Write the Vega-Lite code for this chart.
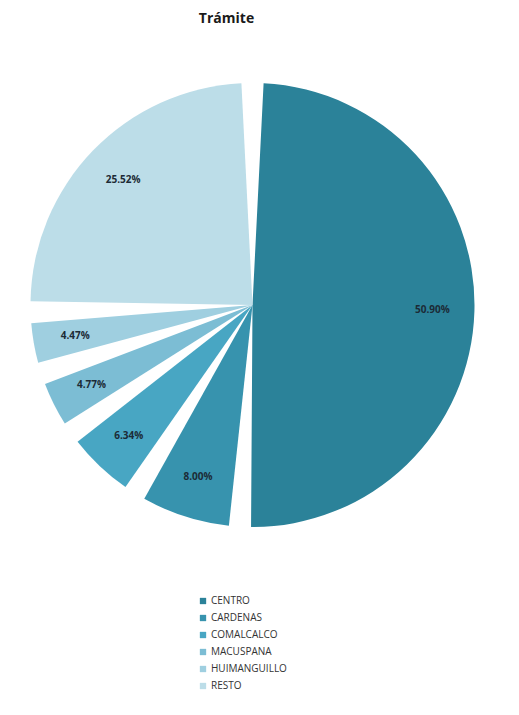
{
  "$schema": "https://vega.github.io/schema/vega-lite/v6.json",
  "width": 505,
  "height": 550,
  "autosize": {"type": "none"},
  "padding": {"top": 30, "left": 0, "right": 14, "bottom": 135},
  "background": "white",
  "title": {
    "text": "Trámite",
    "font": "Open Sans",
    "fontSize": 14,
    "fontWeight": "bold",
    "color": "#1a1a1a",
    "anchor": "middle",
    "dx": -26,
    "offset": 4
  },
  "data": {
    "values": [
      {"region": "CENTRO", "pct": 50.90, "label": "50.90%"},
      {"region": "CARDENAS", "pct": 8.00, "label": "8.00%"},
      {"region": "COMALCALCO", "pct": 6.34, "label": "6.34%"},
      {"region": "MACUSPANA", "pct": 4.77, "label": "4.77%"},
      {"region": "HUIMANGUILLO", "pct": 4.47, "label": "4.47%"},
      {"region": "RESTO", "pct": 25.52, "label": "25.52%"}
    ]
  },
  "encoding": {
    "theta": {"field": "pct", "type": "quantitative", "stack": true},
    "order": {"field": "order_idx", "type": "quantitative"}
  },
  "layer": [
    {
      "mark": {"type": "arc", "outerRadius": 222, "padAngle": 0.1, "stroke": null},
      "encoding": {
        "color": {
          "field": "region",
          "type": "nominal",
          "sort": ["CENTRO", "CARDENAS", "COMALCALCO", "MACUSPANA", "HUIMANGUILLO", "RESTO"],
          "scale": {
            "domain": ["CENTRO", "CARDENAS", "COMALCALCO", "MACUSPANA", "HUIMANGUILLO", "RESTO"],
            "range": ["#2b8299", "#3793ae", "#48a6c3", "#7cbdd4", "#9fcfe0", "#bcdde8"]
          },
          "legend": {
            "orient": "none",
            "legendX": 198,
            "legendY": 566,
            "title": null,
            "symbolType": "square",
            "symbolSize": 40,
            "symbolStrokeWidth": 0,
            "labelFont": "Open Sans",
            "labelFontSize": 10,
            "labelColor": "#333333",
            "labelOffset": 3,
            "rowPadding": 7
          }
        }
      }
    },
    {
      "mark": {"type": "text", "radius": 180, "font": "Open Sans", "fontSize": 10, "fontWeight": "bold", "color": "#1c2b36"},
      "encoding": {
        "text": {"field": "label", "type": "nominal"}
      }
    }
  ]
}
